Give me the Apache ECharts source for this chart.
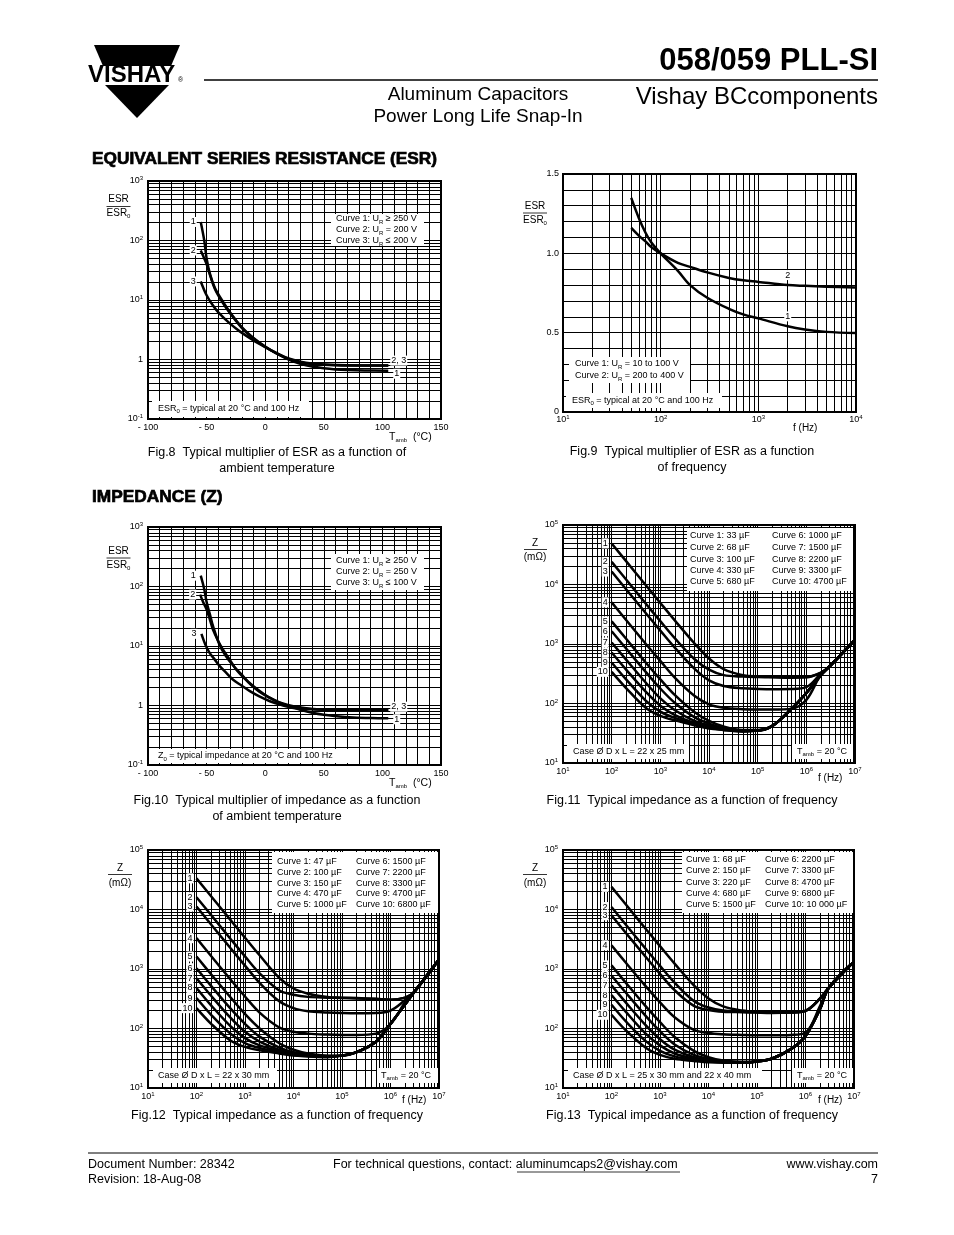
<!DOCTYPE html>
<html><head><meta charset="utf-8">
<script src="https://cdn.jsdelivr.net/npm/echarts@6/dist/echarts.min.js"></script>
<style>html,body{margin:0;padding:0;background:#fff}#c{width:954px;height:1235px}</style>
</head><body><div id="c"></div>
<script>
// ---------------- DATA ----------------
// Fig.8 ESR multiplier vs temperature [T degC, ESR/ESR0]
const fig8Curve1 = [[-55,205],[-52,100],[-50,50],[-47,27],[-43,16],[-37,10],[-30,6.2],[-20,3.5],[-10,2.3],[0,1.65],[10,1.25],[20,1.0],[30,0.85],[40,0.76],[50,0.71],[60,0.68],[70,0.665],[85,0.655],[105,0.648]];
const fig8Curve2 = [[-55,68],[-52,50],[-50,40],[-47,26],[-43,15.5],[-37,9.5],[-30,6.0],[-20,3.4],[-10,2.25],[0,1.62],[10,1.25],[20,1.02],[30,0.9],[40,0.84],[50,0.815],[60,0.8],[75,0.79],[90,0.79],[105,0.79]];
const fig8Curve3 = [[-55,20.5],[-50,12],[-45,8.3],[-40,6.2],[-30,4.0],[-22,3.0],[-10,2.1],[0,1.62],[10,1.28],[20,1.04],[30,0.92],[40,0.86],[55,0.82],[70,0.8],[85,0.795],[105,0.795]];
// Fig.9 ESR multiplier vs frequency
const fig9Freq = [50,60,70,80,100,150,200,300,500,700,1000,2000,3000,5000,10000];
const fig9Curve1 = [1.35,1.22,1.13,1.07,1.0,0.89,0.80,0.72,0.65,0.615,0.59,0.54,0.52,0.505,0.498];
const fig9Curve2 = [1.16,1.11,1.075,1.04,1.0,0.94,0.915,0.88,0.845,0.83,0.82,0.80,0.795,0.79,0.785];
// Fig.10 impedance multiplier vs temperature
const fig10Curve1 = [[-55,152],[-52,90],[-50,55],[-47,33],[-44.5,21.5],[-39,10.5],[-34,7],[-27,4.6],[-20,3.3],[-13,2.3],[-5,1.7],[4,1.34],[12,1.12],[21,0.97],[30,0.85],[41,0.75],[50,0.7],[61,0.66],[75,0.63],[90,0.615],[105,0.61]];
const fig10Curve2 = [[-55.5,73],[-53,55],[-50,41],[-47,27],[-44.5,18.7],[-40,12],[-36,8.7],[-30,5.8],[-24.6,4.0],[-18,2.9],[-10,2.1],[0,1.5],[7,1.26],[15,1.08],[24,0.97],[35,0.9],[47,0.86],[60,0.85],[80,0.85],[105,0.85]];
const fig10Curve3 = [[-54.4,16],[-51,10.5],[-47.3,7.6],[-43,5.9],[-38.8,4.6],[-33,3.5],[-27.4,2.7],[-20,2.15],[-13.1,1.74],[-5,1.42],[4,1.18],[14,1.02],[24,0.91],[35,0.87],[50,0.85],[70,0.85],[105,0.85]];
// Fig.11-13 impedance (mOhm) vs frequency (Hz)
const zFreq = [100,200,500,1e3,2e3,5e3,1e4,2e4,5e4,1e5,2e5,5e5,1e6,2e6,3e6,1e7];
const fig11 = [
 [49000,24500,9800,4900,2470,1030,570,380,300,285,280,275,278,330,420,1170],
 [24000,12000,4800,2420,1240,560,370,300,283,278,275,272,275,330,420,1170],
 [16500,8250,3320,1680,860,385,245,197,180,176,174,175,188,320,420,1170],
 [5000,2500,1010,520,270,135,97,85,80,79,79,82,115,310,420,1170],
 [2400,1210,490,255,138,72,51,41,36,36,42,82,150,300,420,1170],
 [1640,830,340,178,102,59,46,39,35,35,42,82,150,300,420,1170],
 [1060,540,225,122,77,51,43,38,35,35,42,82,150,300,420,1170],
 [720,368,158,92,64,47,41,37,34.5,35,42,82,150,300,420,1170],
 [490,252,112,73,57,45,39,36,34,35,42,82,150,300,420,1170],
 [340,180,85,62,52,43,38,36,34,35,42,82,150,300,420,1170]
];
const fig12 = [
 [33400,16700,6700,3360,1700,720,470,385,340,330,325,315,305,330,400,1450],
 [16100,8060,3230,1630,845,440,370,340,330,325,320,312,305,330,400,1450],
 [11200,5600,2250,1140,585,290,220,195,186,182,180,182,200,300,400,1450],
 [3300,1650,670,345,185,105,88,82,79,78,78,82,118,275,400,1450],
 [1620,815,335,175,100,57,44,38,35,35,40,60,120,255,400,1450],
 [1030,520,218,120,73,48,40,37,34.5,35,40,60,120,255,400,1450],
 [700,355,152,88,60,44,39,36,34,35,40,60,120,255,400,1450],
 [480,245,110,69,52,42,37,35,34,35,40,60,120,255,400,1450],
 [325,170,82,57,47,40,36,34.5,33.5,35,40,60,120,255,400,1450],
 [220,120,63,49,43,38,35,34,33,35,40,60,120,255,400,1450]
];
const fig13 = [
 [24000,12000,4800,2420,1230,530,320,235,200,190,187,188,200,320,480,1330],
 [11000,5500,2220,1130,590,290,225,200,192,188,185,186,198,320,480,1330],
 [8000,4000,1620,830,440,240,205,192,188,185,183,185,196,320,480,1330],
 [2500,1260,520,275,155,95,84,80,78,77,77,78,85,240,480,1330],
 [1150,580,240,128,72,42,33,29,27.5,28,31,45,75,215,480,1330],
 [780,395,165,90,54,36,31,28.5,27,28,31,45,75,215,480,1330],
 [530,270,115,66,44,33,29.5,28,27,28,31,45,75,215,480,1330],
 [365,188,83,52,38,31,28.5,27.5,27,28,31,45,75,215,480,1330],
 [250,130,62,42,34,29.5,28,27,26.5,28,31,45,75,215,480,1330],
 [170,92,48,36,31,28.5,27,26.5,26.5,28,31,45,75,215,480,1330]
];
// tick labels
const tempTicks = [-100,-50,0,50,100,150];
const fig9YTicks = [0,0.5,1.0,1.5];
const fig11Legend = [['Curve 1: 33 µF','Curve 2: 68 µF','Curve 3: 100 µF','Curve 4: 330 µF','Curve 5: 680 µF'],['Curve 6: 1000 µF','Curve 7: 1500 µF','Curve 8: 2200 µF','Curve 9: 3300 µF','Curve 10: 4700 µF']];
const fig12Legend = [['Curve 1: 47 µF','Curve 2: 100 µF','Curve 3: 150 µF','Curve 4: 470 µF','Curve 5: 1000 µF'],['Curve 6: 1500 µF','Curve 7: 2200 µF','Curve 8: 3300 µF','Curve 9: 4700 µF','Curve 10: 6800 µF']];
const fig13Legend = [['Curve 1: 68 µF','Curve 2: 150 µF','Curve 3: 220 µF','Curve 4: 680 µF','Curve 5: 1500 µF'],['Curve 6: 2200 µF','Curve 7: 3300 µF','Curve 8: 4700 µF','Curve 9: 6800 µF','Curve 10: 10 000 µF']];

// ---------------- BUILD ----------------
const FONT = '"Liberation Sans", Arial, Helvetica, sans-serif';
const chart = echarts.init(document.getElementById('c'), null, {renderer:'canvas', width:954, height:1235});

const AX_RICH = {
  n:{fontSize:9, fontFamily:FONT, color:'#000', lineHeight:10},
  s:{fontSize:6, fontFamily:FONT, color:'#000', lineHeight:6, padding:[0,0,5,0]}
};
function powLabel(v){ const e=Math.round(Math.log10(v)); return e===0?'{n|1}':'{n|10}{s|'+e+'}'; }

const grids = [
 {left:148, top:181, width:293, height:238},
 {left:563, top:174, width:293, height:238},
 {left:148, top:527, width:293, height:238},
 {left:563, top:525, width:292, height:238},
 {left:148, top:850, width:291, height:238},
 {left:563, top:850, width:291, height:238}
].map(g=>Object.assign(g,{show:true, borderColor:'#000', borderWidth:2, backgroundColor:'rgba(0,0,0,0)'}));

const hidden = {axisLine:{show:false}, axisTick:{show:false}, splitLine:{show:false}};
function tempAxis(gi){ return Object.assign({type:'value', gridIndex:gi, min:-100, max:150, interval:10,
  axisLabel:{fontSize:9, fontFamily:FONT, color:'#000', margin:4,
   formatter:v=> tempTicks.indexOf(v)>=0 ? (v<0?'- '+(-v):String(v)) : ''}}, hidden); }
function logAxis(gi, min, max, n, margin){ return Object.assign({type:'log', logBase:10, gridIndex:gi, min, max, splitNumber:n,
  axisLabel:{formatter:powLabel, rich:AX_RICH, margin:margin, fontSize:9, color:'#000'}}, hidden); }

const xAxis = [ tempAxis(0), logAxis(1,10,1e4,3,3), tempAxis(2), logAxis(3,10,1e7,6,4), logAxis(4,10,1e7,6,4), logAxis(5,10,1e7,6,4) ];
const yAxis = [
  logAxis(0,0.1,1000,4,5),
  Object.assign({type:'value', gridIndex:1, min:0, max:1.5, interval:0.1,
    axisLabel:{fontSize:9, fontFamily:FONT, color:'#000', margin:4,
     formatter:v=>{const r=Math.round(v*10)/10; return fig9YTicks.indexOf(r)>=0 ? (r===0?'0':r.toFixed(1)) : '';}}}, hidden),
  logAxis(2,0.1,1000,4,5), logAxis(3,10,1e5,4,5), logAxis(4,10,1e5,4,5), logAxis(5,10,1e5,4,5)
];

function logLines(min,max){ const out=[]; for(let e=Math.round(Math.log10(min)); e<Math.round(Math.log10(max)); e++){ const b=Math.pow(10,e); for(let m=1;m<10;m++) out.push(+(m*b).toPrecision(3)); } out.push(max); return out; }
function linLines(min,max,step){ const out=[]; const n=Math.round((max-min)/step); for(let i=0;i<=n;i++) out.push(+(min+i*step).toFixed(4)); return out; }

const series = [];
function gridSeries(gi, xs, ys){
  series.push({type:'line', xAxisIndex:gi, yAxisIndex:gi, data:[], silent:true, z:1,
    markLine:{silent:true, symbol:['none','none'], animation:false, label:{show:false}, emphasis:{disabled:true},
      lineStyle:{color:'#000', width:1, type:'solid'},
      data: xs.map(v=>({xAxis:v})).concat(ys.map(v=>({yAxis:v})))}});
}
gridSeries(0, linLines(-100,150,10), logLines(0.1,1000));
gridSeries(1, logLines(10,1e4), linLines(0,1.5,0.1));
gridSeries(2, linLines(-100,150,10), logLines(0.1,1000));
gridSeries(3, logLines(10,1e7), logLines(10,1e5));
gridSeries(4, logLines(10,1e7), logLines(10,1e5));
gridSeries(5, logLines(10,1e7), logLines(10,1e5));

function lbl(text, pos, extra){ return Object.assign({show:true, formatter:text, position:pos, distance:3, fontSize:9, fontFamily:FONT, color:'#000', backgroundColor:'#fff', padding:[1,1,0,1]}, extra||{}); }
function curve(gi, pts, labels){
  const data = pts.map((p,i)=> labels && labels[i] ? {value:p, label:labels[i]} : p);
  series.push({type:'line', xAxisIndex:gi, yAxisIndex:gi, data, smooth:0.35, symbol:'circle', symbolSize:0,
    showSymbol:true, showAllSymbol:true, silent:true, z:5, lineStyle:{color:'#000', width:2.5}, itemStyle:{color:'#000'},
    label:{show:false}, emphasis:{disabled:true}});
}
// Fig.8
curve(0, fig8Curve1, {0:lbl('1','left',{distance:4}), [fig8Curve1.length-1]:lbl('1','right',{distance:5, offset:[0,3]})});
curve(0, fig8Curve2, {0:lbl('2','left',{distance:4}), [fig8Curve2.length-1]:lbl('2, 3','right',{distance:2, offset:[0,-5]})});
curve(0, fig8Curve3, {0:lbl('3','left',{distance:4})});
// Fig.9
curve(1, fig9Freq.map((f,i)=>[f,fig9Curve1[i]]), {11:lbl('1','top',{distance:5})});
curve(1, fig9Freq.map((f,i)=>[f,fig9Curve2[i]]), {11:lbl('2','top',{distance:5})});
// Fig.10
curve(2, fig10Curve1, {0:lbl('1','left',{distance:4}), [fig10Curve1.length-1]:lbl('1','right',{distance:5, offset:[0,1]})});
curve(2, fig10Curve2, {0:lbl('2','left',{distance:4}), [fig10Curve2.length-1]:lbl('2, 3','right',{distance:2, offset:[0,-3]})});
curve(2, fig10Curve3, {0:lbl('3','left',{distance:4})});
// Fig.11-13
[fig11, fig12, fig13].forEach((set, k)=>{
  set.forEach((vals, i)=>{
    curve(3+k, zFreq.map((f,j)=>[f, vals[j]]), {0:lbl(String(i+1),'left',{distance:3})});
  });
});

// ---------------- GRAPHIC TEXT ----------------
const G = [];
const TXT_RICH = {
  b:{fontSize:6, fontFamily:FONT, fill:'#000', color:'#000', lineHeight:6, padding:[6,0,0,0]},
  b7:{fontSize:7, fontFamily:FONT, fill:'#000', color:'#000', lineHeight:7, padding:[6,0,0,0]}
};
function T(x,y,text,o){ o=o||{}; const st={text, fill:'#000', font:(o.weight||'normal')+' '+(o.size||9)+'px '+FONT,
  align:o.align||'left', verticalAlign:o.va||'middle', rich:TXT_RICH};
  if(o.stroke){ st.stroke='#000'; st.lineWidth=o.stroke; }
  G.push({type:'text', x, y, z:100, silent:true, style:st}); }
function R(x1,y1,x2,y2){ G.push({type:'rect', z:90, silent:true, shape:{x:x1,y:y1,width:x2-x1,height:y2-y1}, style:{fill:'#fff'}}); }
function L(x1,y1,x2,y2,w){ G.push({type:'line', z:100, silent:true, shape:{x1,y1,x2,y2}, style:{stroke:'#000', lineWidth:w||1}}); }
function P(points){ G.push({type:'polygon', z:100, silent:true, shape:{points}, style:{fill:'#000'}}); }

// header
P([[94,45],[180,45],[171,66],[103,66]]);
P([[105,85],[169,85],[137,118]]);
T(88,75,'VISHAY',{size:24, weight:'bold'});
T(178,80,'®',{size:7});
T(878,61,'058/059 PLL-SI',{size:31, weight:'bold', align:'right'});
L(204,80,878,80,1.3);
T(478,95,'Aluminum Capacitors',{size:19, align:'center'});
T(478,117,'Power Long Life Snap-In',{size:19, align:'center'});
T(878,97,'Vishay BCcomponents',{size:24, align:'right'});
T(92,159,'EQUIVALENT SERIES RESISTANCE (ESR)',{size:17.3, weight:'bold', stroke:0.7});
T(92,497,'IMPEDANCE (Z)',{size:17.3, weight:'bold', stroke:0.7});

// Fig.8
T(118.5,199.5,'ESR',{size:10, align:'center'}); L(106.5,206.5,130.5,206.5,0.8); T(118.5,213.5,'ESR{b|0}',{size:10, align:'center'});
R(331,214,424,246);
T(336,219,'Curve 1: U{b|R} ≥ 250 V'); T(336,230,'Curve 2: U{b|R} = 200 V'); T(336,241,'Curve 3: U{b|R} ≤ 200 V');
R(152,401,309,417); T(158,408.5,'ESR{b|0} = typical at 20 °C and 100 Hz');
T(389,437.5,'T{b|amb}  (°C)',{size:10.5});
T(277,453,'Fig.8  Typical multiplier of ESR as a function of',{size:12.5, align:'center'});
T(277,469,'ambient temperature',{size:12.5, align:'center'});
// Fig.9
T(535,206,'ESR',{size:10, align:'center'}); L(523,213,547,213,0.8); T(535,220,'ESR{b|0}',{size:10, align:'center'});
R(569,357,690,383);
T(575,364,'Curve 1: U{b|R} = 10 to 100 V'); T(575,376,'Curve 2: U{b|R} = 200 to 400 V');
R(566,393,722,408); T(572,400.5,'ESR{b|0} = typical at 20 °C and 100 Hz');
T(793,428,'f (Hz)',{size:10});
T(692,452,'Fig.9  Typical multiplier of ESR as a function',{size:12.5, align:'center'});
T(692,468,'of frequency',{size:12.5, align:'center'});
// Fig.10
T(118.5,551,'ESR',{size:10, align:'center'}); L(106.5,558,130.5,558,0.8); T(118.5,565,'ESR{b|0}',{size:10, align:'center'});
R(331,554,424,590);
T(336,561,'Curve 1: U{b|R} ≥ 250 V'); T(336,572,'Curve 2: U{b|R} = 250 V'); T(336,583,'Curve 3: U{b|R} ≤ 100 V');
R(152,749,352,763); T(158,756,'Z{b|0} = typical impedance at 20 °C and 100 Hz');
T(389,783.5,'T{b|amb}  (°C)',{size:10.5});
T(277,801,'Fig.10  Typical multiplier of impedance as a function',{size:12.5, align:'center'});
T(277,817,'of ambient temperature',{size:12.5, align:'center'});
// Fig.11-13 legends
function zLegend(box, cols, rows, legend){
  R(box[0],box[1],box[2],box[3]);
  legend.forEach((col,ci)=>col.forEach((t,ri)=>T(cols[ci], rows[ri], t)));
}
zLegend([687,528,853,591],[690,772],[536,547.7,559.3,571,581.7], fig11Legend);
R(567,744,689,759); T(573,751.5,'Case Ø D x L = 22 x 25 mm');
R(792,744,853,759); T(797,751.5,'T{b|amb} = 20 °C');
T(535,543,'Z',{size:10, align:'center'}); L(524,549.5,547,549.5,0.8); T(535,557,'(mΩ)',{size:10, align:'center'});
T(818,778.5,'f (Hz)',{size:10});
T(692,801,'Fig.11  Typical impedance as a function of frequency',{size:12.5, align:'center'});

zLegend([272,852,438,913],[277,356],[861.7,872.7,883.3,894,905], fig12Legend);
R(153,1068,277,1083); T(158,1075.5,'Case Ø D x L = 22 x 30 mm');
R(377,1068,438,1083); T(381,1075.5,'T{b|amb} = 20 °C');
T(120,868,'Z',{size:10, align:'center'}); L(108,874.5,132,874.5,0.8); T(120,883,'(mΩ)',{size:10, align:'center'});
T(402,1100,'f (Hz)',{size:10});
T(277,1116,'Fig.12  Typical impedance as a function of frequency',{size:12.5, align:'center'});

zLegend([682,852,853,913],[686,765],[860,871,882.7,893.3,904.3], fig13Legend);
R(568,1068,762,1083); T(573,1075.5,'Case Ø D x L = 25 x 30 mm and 22 x 40 mm');
R(792,1068,853,1083); T(797,1075.5,'T{b|amb} = 20 °C');
T(535,868,'Z',{size:10, align:'center'}); L(523,874.5,547,874.5,0.8); T(535,883,'(mΩ)',{size:10, align:'center'});
T(818,1100,'f (Hz)',{size:10});
T(692,1116,'Fig.13  Typical impedance as a function of frequency',{size:12.5, align:'center'});

// footer
L(88,1153,878,1153,1);
T(88,1165,'Document Number: 28342',{size:12.5});
T(88,1180,'Revision: 18-Aug-08',{size:12.5});
T(333,1165,'For technical questions, contact: aluminumcaps2@vishay.com',{size:12.5});
L(517,1172,680,1172,0.8);
T(878,1165,'www.vishay.com',{size:12.5, align:'right'});
T(878,1180,'7',{size:12.5, align:'right'});

chart.setOption({
  animation:false,
  backgroundColor:'#fff',
  textStyle:{fontFamily:FONT},
  grid:grids, xAxis, yAxis, series,
  graphic:{elements:G}
});
</script></body></html>
